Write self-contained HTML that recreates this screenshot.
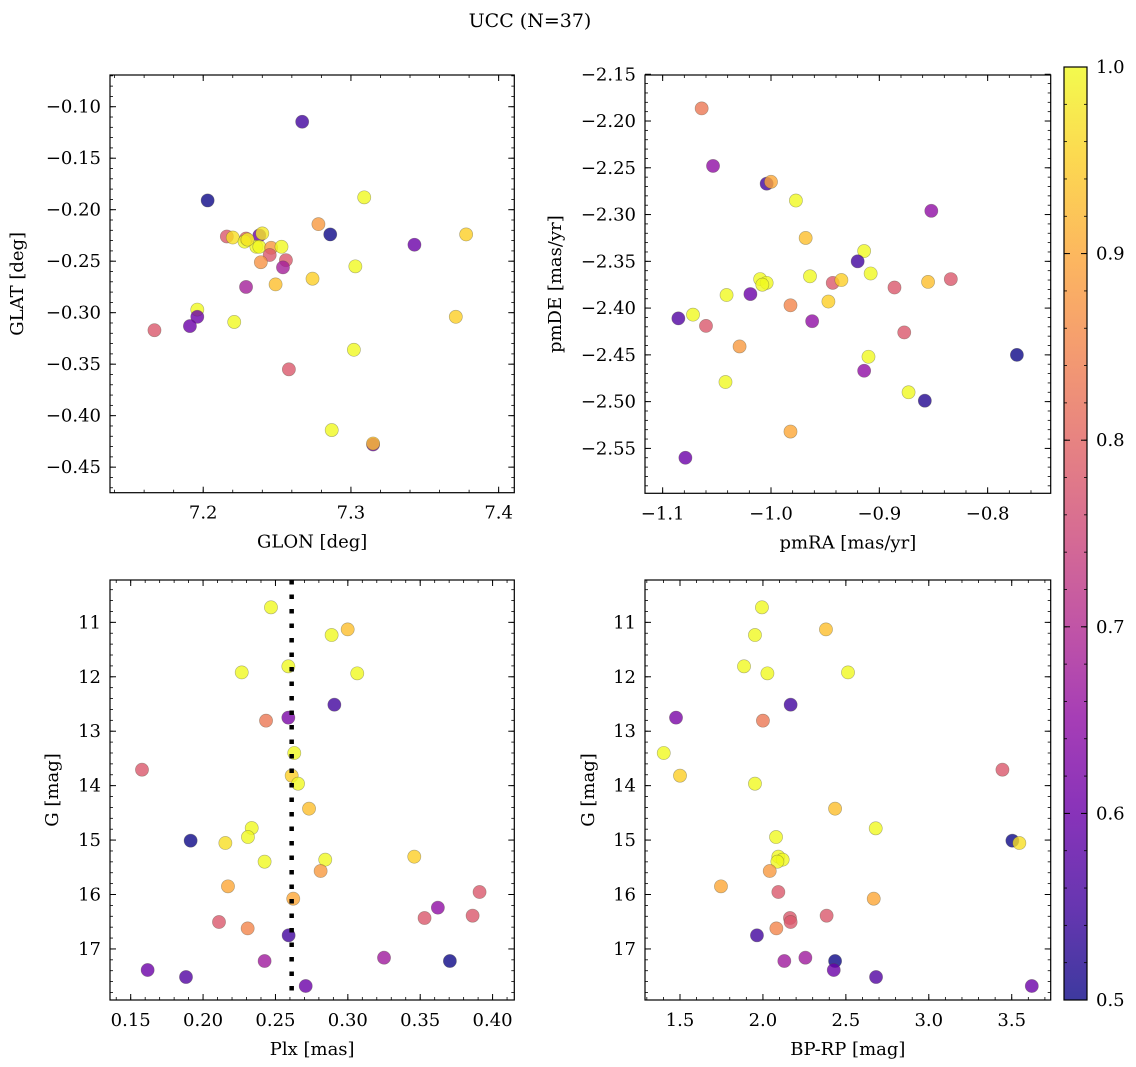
<!DOCTYPE html>
<html><head><meta charset="utf-8"><style>
html,body{margin:0;padding:0;background:#fff;}
svg{display:block;font-family:"DejaVu Serif","Liberation Serif",serif;}
</style></head><body>
<svg id="fig" width="1136" height="1067" viewBox="0 0 1136 1067" xmlns="http://www.w3.org/2000/svg">
<text x="530" y="27" font-size="19" text-anchor="middle">UCC (N=37)</text>
</svg>
<script>
// ---- data ----
const glon = [7.267,7.203,7.309,7.278,7.286,7.343,7.378,7.216,7.220,7.229,7.228,7.238,7.240,7.236,7.238,7.246,7.253,7.245,7.256,7.254,7.239,7.303,7.274,7.249,7.229,7.196,7.196,7.191,7.167,7.221,7.371,7.302,7.258,7.287,7.315,7.315,7.230];
const glat = [-0.1146,-0.191,-0.188,-0.214,-0.224,-0.234,-0.224,-0.226,-0.227,-0.228,-0.231,-0.225,-0.223,-0.236,-0.236,-0.237,-0.236,-0.244,-0.249,-0.256,-0.251,-0.255,-0.267,-0.2725,-0.275,-0.297,-0.304,-0.313,-0.317,-0.309,-0.304,-0.336,-0.355,-0.414,-0.428,-0.427,-0.229];
const prob1 = [0.55,0.5,1.0,0.88,0.5,0.6,0.95,0.78,0.97,0.8,1.0,0.6,0.98,1.0,1.0,0.88,1.0,0.78,0.78,0.68,0.87,1.0,0.95,0.93,0.68,1.0,0.6,0.6,0.78,1.0,0.95,1.0,0.78,1.0,0.6,0.93,0.98];

const pmra = [-1.064,-1.0535,-1.004,-1.0,-0.977,-0.852,-0.968,-0.914,-0.920,-0.964,-0.908,-1.010,-1.004,-1.008,-0.943,-0.935,-0.886,-0.855,-0.834,-1.041,-1.019,-0.947,-0.982,-1.0855,-1.072,-0.962,-1.060,-1.029,-0.877,-0.773,-0.910,-0.914,-1.042,-0.873,-0.858,-0.982,-1.079];
const pmde = [-2.1865,-2.248,-2.267,-2.265,-2.285,-2.296,-2.325,-2.339,-2.350,-2.366,-2.363,-2.369,-2.373,-2.375,-2.373,-2.370,-2.378,-2.372,-2.369,-2.386,-2.385,-2.393,-2.397,-2.411,-2.407,-2.414,-2.419,-2.441,-2.426,-2.450,-2.452,-2.467,-2.479,-2.490,-2.499,-2.532,-2.560];
const prob2 = [0.83,0.65,0.55,0.9,1.0,0.65,0.93,1.0,0.55,1.0,1.0,1.0,1.0,1.0,0.78,0.95,0.78,0.93,0.78,1.0,0.6,0.95,0.85,0.57,1.0,0.65,0.78,0.88,0.78,0.5,1.0,0.65,1.0,1.0,0.52,0.9,0.6];

const plx = [0.2469,0.2888,0.2999,0.2267,0.2589,0.3065,0.2907,0.2435,0.2589,0.2630,0.1578,0.2612,0.2656,0.2732,0.2336,0.1914,0.2154,0.2310,0.2425,0.2844,0.3459,0.2812,0.2172,0.2623,0.3910,0.3622,0.3530,0.3862,0.2110,0.2308,0.2591,0.2425,0.3250,0.3705,0.1617,0.1882,0.2709];
const gmag3 = [10.724,11.233,11.129,11.919,11.808,11.937,12.513,12.806,12.751,13.400,13.707,13.817,13.964,14.423,14.778,15.011,15.054,14.944,15.397,15.360,15.305,15.568,15.850,16.077,15.954,16.242,16.432,16.389,16.505,16.622,16.750,17.222,17.161,17.222,17.387,17.516,17.681];
const prob3 = [1.0,1.0,0.93,1.0,1.0,1.0,0.55,0.83,0.62,1.0,0.78,0.95,1.0,0.93,1.0,0.5,0.97,1.0,1.0,1.0,0.95,0.88,0.9,0.9,0.78,0.65,0.78,0.78,0.78,0.85,0.55,0.67,0.67,0.5,0.6,0.57,0.6];
const plxMedian = 0.2612;

const bprp = [1.994,1.952,2.380,1.886,2.027,2.513,2.167,1.476,2.0,1.402,3.444,1.5,1.952,2.435,2.680,2.079,3.504,3.546,2.093,2.119,2.087,2.041,1.747,2.093,2.668,2.163,2.167,2.384,2.081,1.964,2.129,2.256,2.435,2.427,2.682,3.621];
const gmag4 = [10.724,11.233,11.129,11.808,11.937,11.919,12.513,12.751,12.806,13.400,13.707,13.817,13.964,14.423,14.784,14.944,15.011,15.054,15.305,15.360,15.397,15.568,15.850,15.954,16.077,16.432,16.505,16.389,16.622,16.750,17.222,17.161,17.222,17.387,17.516,17.681];
const prob4 = [1.0,1.0,0.93,1.0,1.0,1.0,0.55,0.62,0.83,1.0,0.78,0.95,1.0,0.93,1.0,1.0,0.5,0.97,1.0,1.0,1.0,0.88,0.9,0.78,0.9,0.78,0.78,0.78,0.85,0.55,0.67,0.67,0.5,0.6,0.57,0.6];

const cbTicks = [0.5,0.6,0.7,0.8,0.9,1.0];

// ---- helpers ----
const NS = "http://www.w3.org/2000/svg";
const svg = document.getElementById('fig');
const FS = 18;
function mk(tag, attrs, parent){ const e=document.createElementNS(NS,tag); for(const k in attrs) e.setAttribute(k,attrs[k]); (parent||svg).appendChild(e); return e; }
const stops=[[13,8,135],[65,4,157],[106,0,168],[143,13,164],[177,42,144],[204,71,120],[225,100,98],[242,132,75],[252,166,54],[252,206,37],[240,249,33]];
function plasma(t){ t=Math.max(0,Math.min(1,t)); const f=t*10, i=Math.min(9,Math.floor(f)), r=f-i; const a=stops[i], b=stops[i+1]; return `rgb(${Math.round(a[0]+(b[0]-a[0])*r)},${Math.round(a[1]+(b[1]-a[1])*r)},${Math.round(a[2]+(b[2]-a[2])*r)})`; }
function cmap(v){ return plasma((v-0.5)/0.5); }
function fmt(v,d){ const s=v.toFixed(d); return v<0? '\u2212'+s.slice(1) : s; }

function panel(cfg){
  const {name,L,R,T,B,xmin,xmax,ymin,ymax,inv,xt,xd,xminor,yt,yd,yminor,xs,ys,cs,xl,yl,ylx}=cfg;
  const g=mk('g',{});
  
  
  const X=v=>L+(v-xmin)/(xmax-xmin)*(R-L);
  const Y=v=> inv ? T+(v-ymin)/(ymax-ymin)*(B-T) : B-(v-ymin)/(ymax-ymin)*(B-T);
  const pg=mk('g',{},g);
  
  
  for(let i=0;i<xs.length;i++){
    const c=mk('circle',{cx:X(xs[i]),cy:Y(ys[i]),r:6.6,fill:cmap(cs[i]),'fill-opacity':0.8,stroke:'rgba(80,80,60,0.45)','stroke-width':0.6},pg);
    
    
  }
  if(cfg.extra) cfg.extra(g,X,Y);
  const fr=mk('rect',{x:L,y:T,width:R-L,height:B-T,fill:'none',stroke:'#000','stroke-width':1.2},g);
  
  
  const eps=1e-9;
  for(let v=Math.ceil(xmin/xminor-eps)*xminor; v<=xmax+eps; v+=xminor){ const x=X(v); if(x<L||x>R) continue;
    mk('line',{x1:x,x2:x,y1:B,y2:B-3,stroke:'#000','stroke-width':0.8},g); mk('line',{x1:x,x2:x,y1:T,y2:T+3,stroke:'#000','stroke-width':0.8},g); }
  for(let v=Math.ceil(ymin/yminor-eps)*yminor; v<=ymax+eps; v+=yminor){ const y=Y(v); if(y<T||y>B) continue;
    mk('line',{x1:L,x2:L+3,y1:y,y2:y,stroke:'#000','stroke-width':0.8},g); mk('line',{x1:R,x2:R-3,y1:y,y2:y,stroke:'#000','stroke-width':0.8},g); }
  xt.forEach(v=>{ const x=X(v);
    mk('line',{x1:x,x2:x,y1:B,y2:B-6,stroke:'#000','stroke-width':1},g); mk('line',{x1:x,x2:x,y1:T,y2:T+6,stroke:'#000','stroke-width':1},g);
    const t=mk('text',{x:x,y:B+26,'font-size':FS,'text-anchor':'middle'},g); t.textContent=fmt(v,xd);
    
     });
  yt.forEach(v=>{ const y=Y(v);
    mk('line',{x1:L,x2:L+6,y1:y,y2:y,stroke:'#000','stroke-width':1},g); mk('line',{x1:R,x2:R-6,y1:y,y2:y,stroke:'#000','stroke-width':1},g);
    const t=mk('text',{x:L-9,y:y+6,'font-size':FS,'text-anchor':'end'},g); t.textContent=fmt(v,yd);
    
     });
  const tx=mk('text',{x:(L+R)/2,y:B+55,'font-size':FS,'text-anchor':'middle'},g); tx.textContent=xl;
  
  
  const ty=mk('text',{x:ylx,y:(T+B)/2,'font-size':FS,'text-anchor':'middle',transform:`rotate(-90 ${ylx} ${(T+B)/2})`},g); ty.textContent=yl;
  
  
}

panel({name:'glon-glat-panel',L:110,R:514.3,T:75,B:492.7,xmin:7.1369,xmax:7.4106,ymin:-0.4748,ymax:-0.0692,inv:false,
  xt:[7.2,7.3,7.4],xd:1,xminor:0.02,yt:[-0.10,-0.15,-0.20,-0.25,-0.30,-0.35,-0.40,-0.45],yd:2,yminor:0.01,
  xs:glon,ys:glat,cs:prob1,xl:'GLON [deg]',yl:'GLAT [deg]',ylx:23});
panel({name:'pm-panel',L:645,R:1050.7,T:75,B:493.3,xmin:-1.1163,xmax:-0.7418,ymin:-2.598,ymax:-2.1508,inv:false,
  xt:[-1.1,-1.0,-0.9,-0.8],xd:1,xminor:0.02,yt:[-2.15,-2.20,-2.25,-2.30,-2.35,-2.40,-2.45,-2.50,-2.55],yd:2,yminor:0.01,
  xs:pmra,ys:pmde,cs:prob2,xl:'pmRA [mas/yr]',yl:'pmDE [mas/yr]',ylx:561});
panel({name:'plx-g-panel',L:110,R:514.3,T:580,B:1000,xmin:0.1357,xmax:0.415,ymin:10.222,ymax:17.938,inv:true,
  xt:[0.15,0.20,0.25,0.30,0.35,0.40],xd:2,xminor:0.01,yt:[11,12,13,14,15,16,17],yd:0,yminor:0.2,
  xs:plx,ys:gmag3,cs:prob3,xl:'Plx [mas]',yl:'G [mag]',ylx:58,
  extra:(g,X,Y)=>{ const l=mk('line',{x1:X(plxMedian),x2:X(plxMedian),y1:580,y2:1000,stroke:'#000','stroke-width':4.5,'stroke-dasharray':'4.5 10'},g);
    
     }});
panel({name:'cmd-panel',L:645,R:1050.7,T:580,B:1000,xmin:1.289,xmax:3.735,ymin:10.222,ymax:17.938,inv:true,
  xt:[1.5,2.0,2.5,3.0,3.5],xd:1,xminor:0.1,yt:[11,12,13,14,15,16,17],yd:0,yminor:0.2,
  xs:bprp,ys:gmag4,cs:prob4,xl:'BP-RP [mag]',yl:'G [mag]',ylx:594});

// colorbar
const cb=mk('g',{});


const defs=mk('defs',{},cb);
const grad=mk('linearGradient',{id:'pg',x1:0,y1:1,x2:0,y2:0},defs);
for(let i=0;i<=10;i++) mk('stop',{offset:i/10,'stop-color':plasma(i/10)},grad);
const CT=67, CB=1000, CL=1064, CR=1087;
mk('rect',{x:CL,y:CT,width:CR-CL,height:CB-CT,fill:'url(#pg)','fill-opacity':0.8},cb);
mk('rect',{x:CL,y:CT,width:CR-CL,height:CB-CT,fill:'none',stroke:'#000','stroke-width':1.2},cb);
const CY=v=>CB-(v-0.5)/0.5*(CB-CT);
for(let v=0.5; v<=1.0001; v+=0.02){ const y=CY(v); mk('line',{x1:CR,x2:CR-3,y1:y,y2:y,stroke:'#000','stroke-width':0.8},cb); mk('line',{x1:CL,x2:CL+3,y1:y,y2:y,stroke:'#000','stroke-width':0.8},cb); }
cbTicks.forEach(v=>{ const y=CY(v);
  mk('line',{x1:CR,x2:CR-6,y1:y,y2:y,stroke:'#000','stroke-width':1},cb); mk('line',{x1:CL,x2:CL+6,y1:y,y2:y,stroke:'#000','stroke-width':1},cb);
  const t=mk('text',{x:CR+9,y:y+6,'font-size':FS},cb); t.textContent=v.toFixed(1);
  
   });
</script>
</body></html>
